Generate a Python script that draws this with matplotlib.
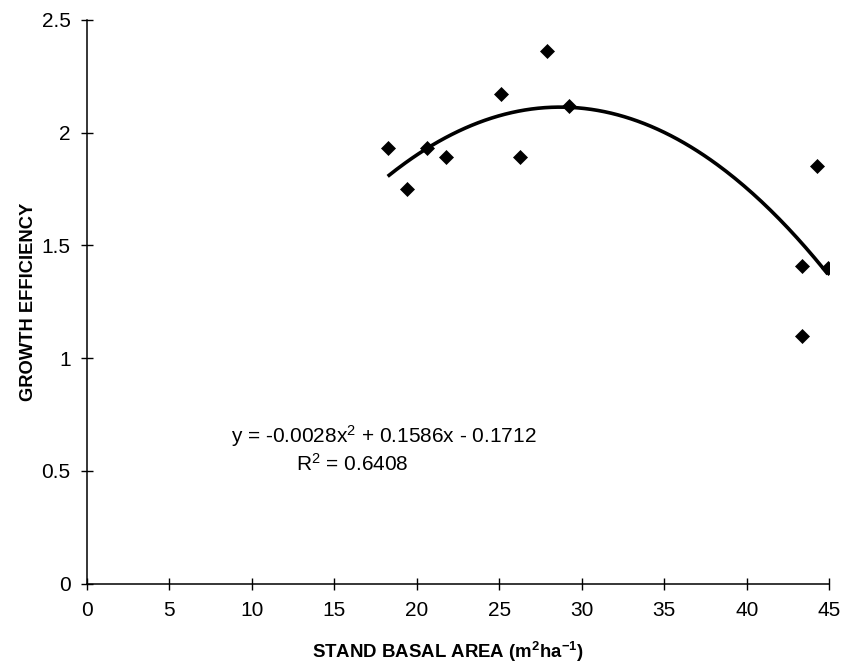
import numpy as np
import matplotlib
matplotlib.use("Agg")
import matplotlib.pyplot as plt

plt.rcParams['font.family'] = ['Liberation Sans', 'DejaVu Sans']
plt.rcParams['mathtext.default'] = 'regular'

# stand basal area (m2/ha) vs growth efficiency
basal_area = [18.24, 19.41, 20.6, 21.78, 25.09, 26.28, 27.88, 29.2, 43.35, 43.35, 44.28, 44.91]
growth_eff = [1.93, 1.75, 1.93, 1.89, 2.17, 1.89, 2.36, 2.12, 1.41, 1.10, 1.85, 1.40]

eq_label = 'y = -0.0028x$^2$ + 0.1586x - 0.1712'
r2_label = 'R$^2$ = 0.6408'

x_ticks = np.arange(0, 46, 5)
y_ticks = [0, 0.5, 1, 1.5, 2, 2.5]
y_tick_labels = ['0', '0.5', '1', '1.5', '2', '2.5']


def main():
    fig = plt.figure(figsize=(8.43, 6.71), dpi=100)
    ax = fig.add_axes([0.1028, 0.1304, 0.881, 0.8399])

    x = np.asarray(basal_area)
    y = np.asarray(growth_eff)

    # 2nd order polynomial trend line over the data range
    coef = np.polyfit(x, y, 2)
    xx = np.linspace(x.min(), x.max(), 200)
    ax.plot(xx, np.polyval(coef, xx), color='black', lw=2.6, solid_capstyle='butt', zorder=2)

    ax.plot(x, y, linestyle='none', marker='D', ms=7.6, color='black', mec='black', mew=0.5, zorder=3)

    ax.set_xlim(0, 45)
    ax.set_ylim(0, 2.5)
    ax.set_xticks(x_ticks)
    ax.set_yticks(y_ticks, y_tick_labels)

    for side in ['top', 'right']:
        ax.spines[side].set_visible(False)
    for side in ['left', 'bottom']:
        ax.spines[side].set_linewidth(1.1)
        ax.spines[side].set_clip_on(False)

    ax.tick_params(direction='inout', length=9, width=1.0, labelsize=15, pad=7)
    ax.tick_params(axis='x', pad=8)

    ax.set_xlabel('STAND BASAL AREA (m$^2$ha$^{-1}$)', fontsize=13.4, fontweight='bold')
    ax.xaxis.set_label_coords(0.4865, -0.0995)
    ax.set_ylabel('GROWTH EFFICIENCY', fontsize=13.2, fontweight='bold', labelpad=3)

    ax.text(18.02, 0.654, eq_label, ha='center', va='center', fontsize=15)
    ax.text(16.08, 0.530, r2_label, ha='center', va='center', fontsize=15)

    fig.savefig('out.png', dpi=100, facecolor='white')


if __name__ == "__main__":
    main()
